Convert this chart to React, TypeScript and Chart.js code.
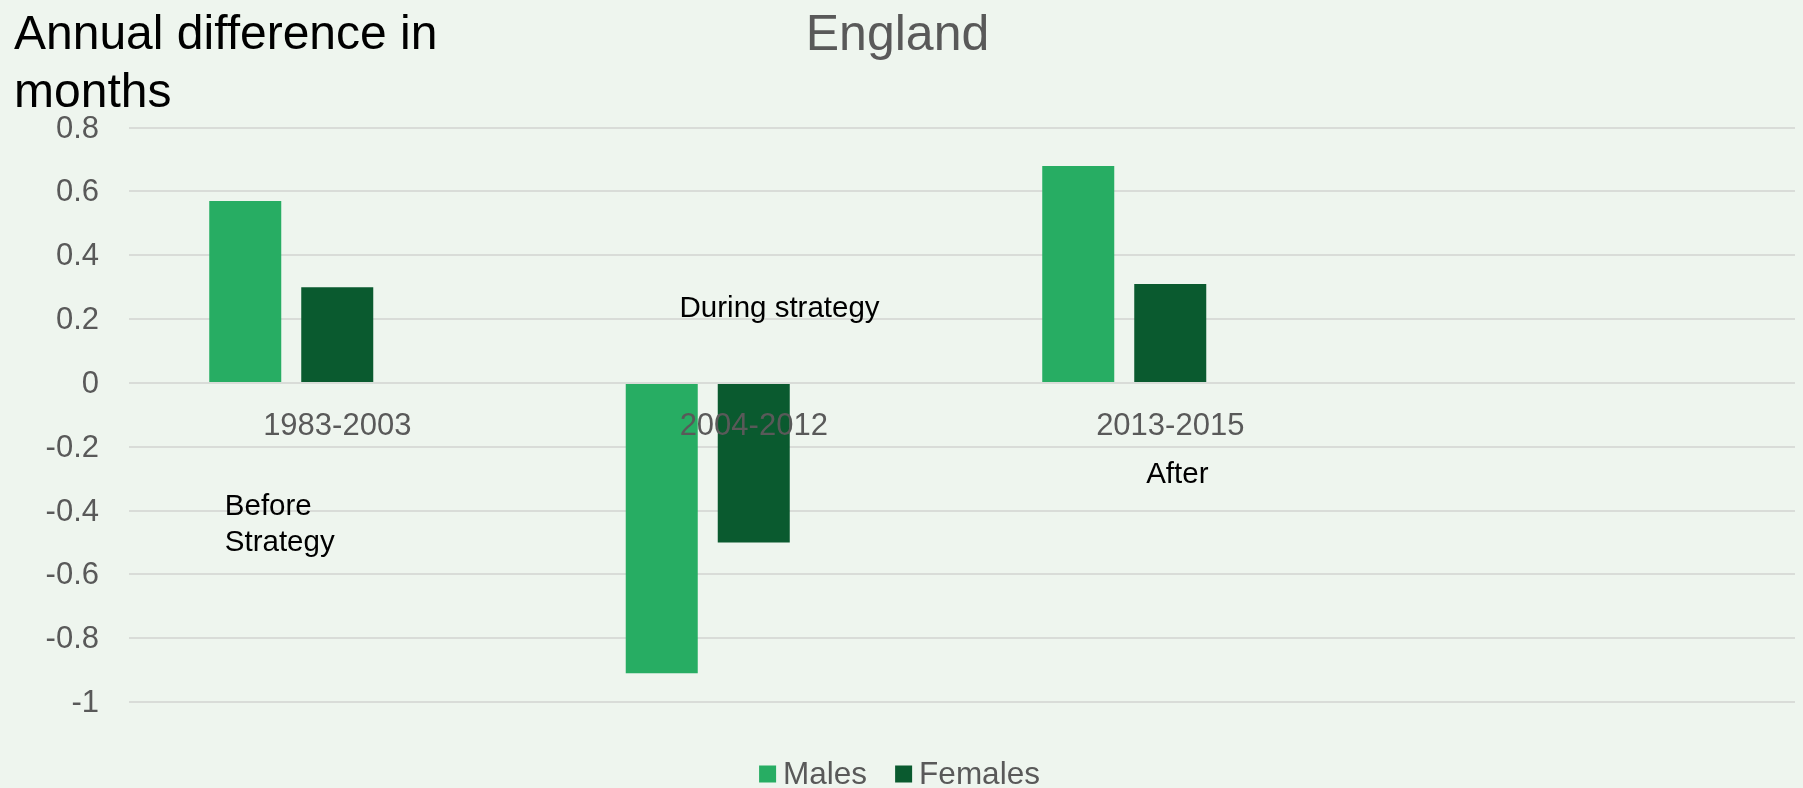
import React, { useEffect, useRef } from "react";
import { Chart, registerables } from "chart.js";

Chart.register(...registerables);

const FONT = '"Liberation Sans", Arial, Helvetica, sans-serif';

// ---- data ----
const categories = ["1983-2003", "2004-2012", "2013-2015", ""];
const malesValues: (number | null)[] = [0.57, -0.91, 0.68, null];
const femalesValues: (number | null)[] = [0.3, -0.5, 0.31, null];
const spacerValues: (number | null)[] = [null, null, null, null];
const yTickValues = [-1, -0.8, -0.6, -0.4, -0.2, 0, 0.2, 0.4, 0.6, 0.8];

const chartTitle = "England";
const yTitleLines = ["Annual difference in", "months"];

// annotations (text boxes), anchored in category-index / value space
const annotationTexts = [["Before", "Strategy"], ["During strategy"], ["After"]];
const annotationCategory = [-0.27, 1.062, 2.017];
const annotationValue = [-0.387, 0.231, -0.288];
const annotationAlign: CanvasTextAlign[] = ["left", "center", "center"];

const MALES_COLOR = "#27AD63";
const FEMALES_COLOR = "#0A5A2F";
const BG = "#EEF5EE";

const formatTick = (v: number) => String(Math.round(v * 10) / 10);

const annotationPlugin = {
  id: "annotationTexts",
  afterDatasetsDraw(chart: any) {
    const ctx = chart.ctx;
    const xs = chart.scales.x;
    const ys = chart.scales.y;
    ctx.save();
    ctx.fillStyle = "#000000";
    ctx.font = `29.5px ${FONT}`;
    ctx.textBaseline = "middle";
    annotationTexts.forEach((lines, i) => {
      const px = xs.getPixelForValue(annotationCategory[i]);
      const py = ys.getPixelForValue(annotationValue[i]);
      ctx.textAlign = annotationAlign[i];
      lines.forEach((t, j) => ctx.fillText(t, px, py + j * 36));
    });
    ctx.restore();
  },
};

const yTitlePlugin = {
  id: "yTitle",
  afterDraw(chart: any) {
    const ctx = chart.ctx;
    ctx.save();
    ctx.fillStyle = "#000000";
    ctx.font = `48px ${FONT}`;
    ctx.textAlign = "left";
    ctx.textBaseline = "middle";
    yTitleLines.forEach((t, j) => ctx.fillText(t, 14, 36 + j * 58));
    ctx.restore();
  },
};

const legendPlugin = {
  id: "customLegend",
  afterDraw(chart: any) {
    const ctx = chart.ctx;
    const items = chart.data.datasets.filter((d: any) => d.label);
    ctx.save();
    ctx.font = `31.5px ${FONT}`;
    const box = 17;
    const gapText = 7;
    const gapItem = 28;
    const widths = items.map((d: any) => box + gapText + ctx.measureText(d.label).width);
    const total = widths.reduce((a: number, b: number) => a + b, 0) + gapItem * (items.length - 1);
    let x = chart.width / 2 - 2 - total / 2;
    const cy = chart.chartArea.bottom + 72;
    items.forEach((d: any, i: number) => {
      ctx.fillStyle = d.backgroundColor;
      ctx.fillRect(x, cy - box / 2, box, box);
      ctx.fillStyle = "#595959";
      ctx.textAlign = "left";
      ctx.textBaseline = "middle";
      ctx.fillText(d.label, x + box + gapText, cy + 1);
      x += widths[i] + gapItem;
    });
    ctx.restore();
  },
};

export default function App() {
  const canvasRef = useRef<HTMLCanvasElement | null>(null);

  useEffect(() => {
    if (!canvasRef.current) return;
    const catPct = 0.6627;
    const barPct = 0.7826;
    const chart = new Chart(canvasRef.current, {
      type: "bar",
      data: {
        labels: categories,
        datasets: [
          { label: "Males", data: malesValues, backgroundColor: MALES_COLOR, borderWidth: 0, categoryPercentage: catPct, barPercentage: barPct },
          { label: "Females", data: femalesValues, backgroundColor: FEMALES_COLOR, borderWidth: 0, categoryPercentage: catPct, barPercentage: barPct },
          { label: "", data: spacerValues, backgroundColor: "rgba(0,0,0,0)", borderWidth: 0, categoryPercentage: catPct, barPercentage: barPct },
        ],
      },
      options: {
        animation: false,
        responsive: false,
        maintainAspectRatio: false,
        layout: { padding: { left: 0, right: 8, top: 0, bottom: 86 } },
        plugins: {
          legend: { display: false },
          tooltip: { enabled: false },
          title: {
            display: true,
            text: chartTitle,
            color: "#595959",
            font: { family: FONT, size: 50, weight: "normal", lineHeight: 1.2 },
            padding: { top: 6, bottom: 61.6 },
          },
        },
        scales: {
          x: {
            type: "category",
            position: { y: 0 },
            grid: { display: false, drawTicks: false },
            border: { display: false },
            ticks: {
              color: "#595959",
              font: { family: FONT, size: 31 },
              padding: 25,
              z: 1,
              autoSkip: false,
              maxRotation: 0,
              minRotation: 0,
            },
          },
          y: {
            type: "linear",
            min: -1,
            max: 0.8,
            afterFit(s: any) {
              s.width = 129;
            },
            afterBuildTicks(s: any) {
              s.ticks = yTickValues.map((v) => ({ value: v }));
            },
            grid: { color: "#D9DCD8", lineWidth: 2, drawTicks: false },
            border: { display: false },
            ticks: {
              color: "#595959",
              font: { family: FONT, size: 31 },
              padding: 30,
              labelOffset: 1.5,
              callback: (v: any) => formatTick(Number(v)),
            },
          },
        },
      } as any,
      plugins: [annotationPlugin, legendPlugin, yTitlePlugin],
    });
    return () => chart.destroy();
  }, []);

  return (
    <div style={{ position: "fixed", left: 0, top: 0, width: 1803, height: 788, background: BG }}>
      <canvas ref={canvasRef} width={1803} height={788} style={{ display: "block", width: 1803, height: 788 }} />
    </div>
  );
}
